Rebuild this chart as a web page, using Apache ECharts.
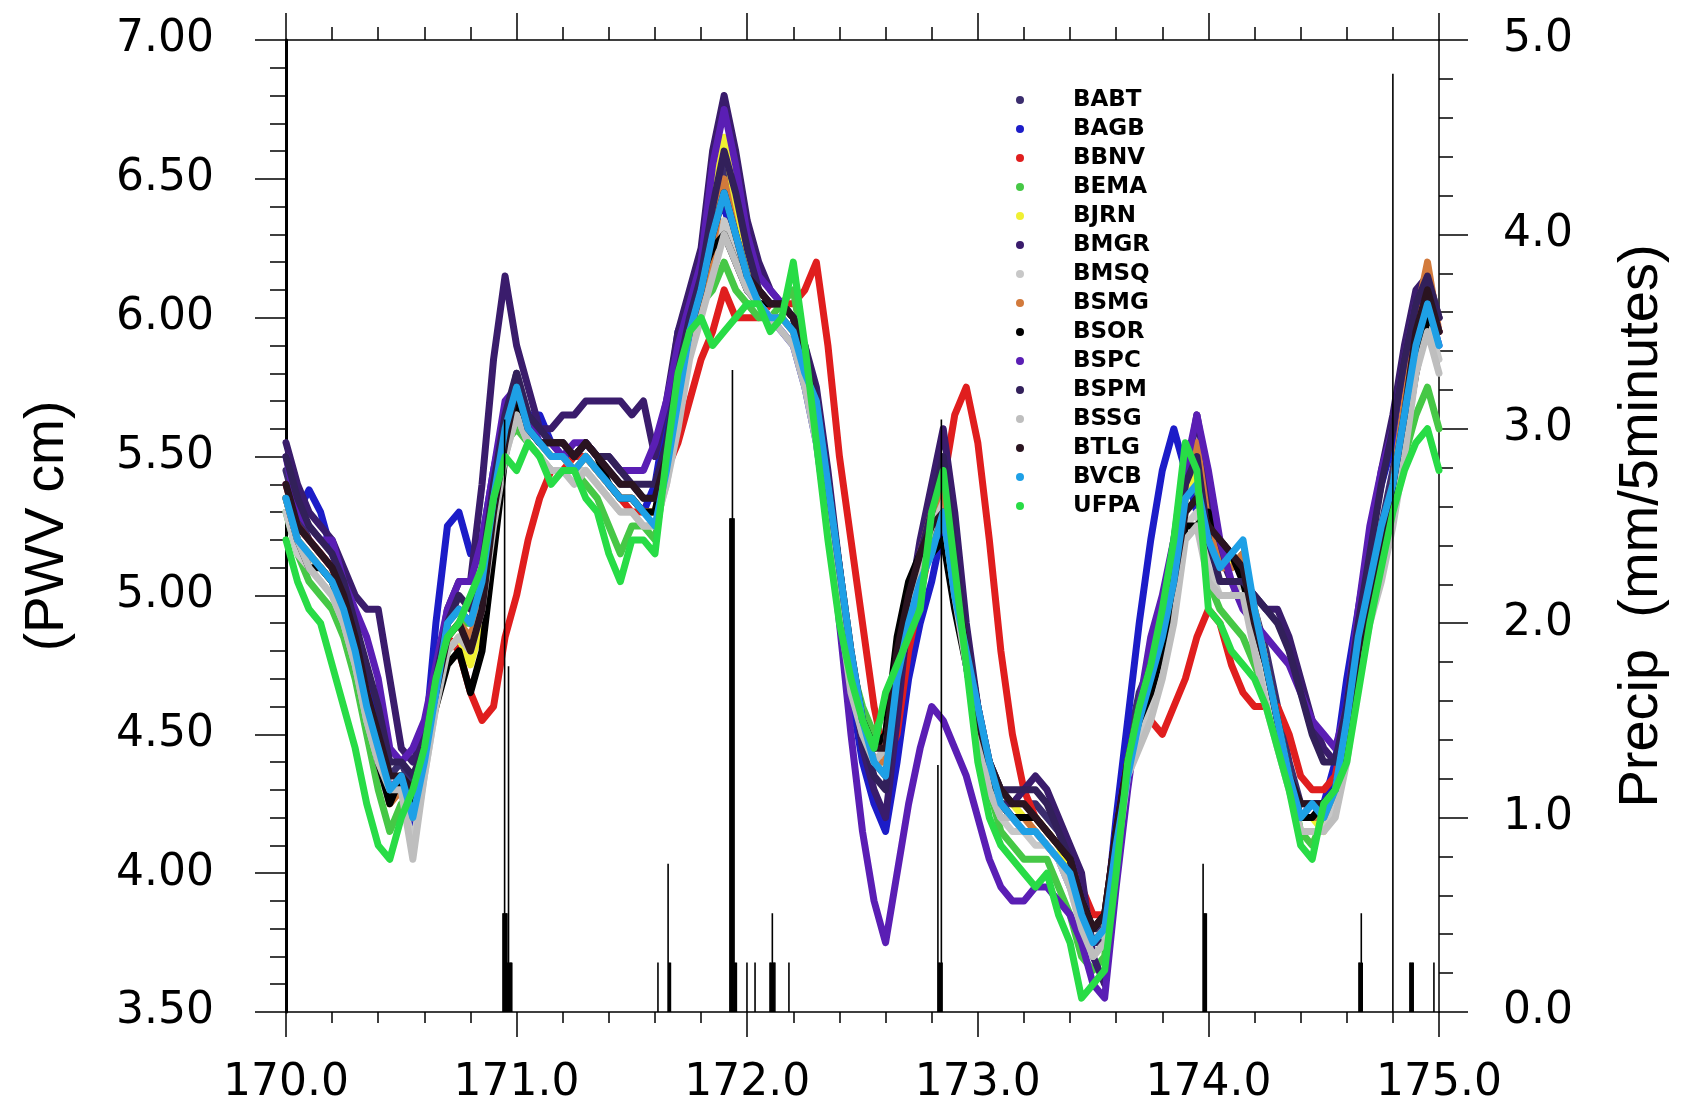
<!DOCTYPE html>
<html>
<head>
<meta charset="utf-8">
<script src="https://cdn.jsdelivr.net/npm/echarts@6/dist/echarts.min.js"></script>
<style>html,body{margin:0;padding:0;background:#fff;}#chart{width:1682px;height:1107px;}</style>
</head>
<body>
<div id="chart"></div>
<script>
const days = [170.00,170.05,170.10,170.15,170.20,170.25,170.30,170.35,170.40,170.45,
170.50,170.55,170.60,170.65,170.70,170.75,170.80,170.85,170.90,170.95,
171.00,171.05,171.10,171.15,171.20,171.25,171.30,171.35,171.40,171.45,
171.50,171.55,171.60,171.65,171.70,171.75,171.80,171.85,171.90,171.95,
172.00,172.05,172.10,172.15,172.20,172.25,172.30,172.35,172.40,172.45,
172.50,172.55,172.60,172.65,172.70,172.75,172.80,172.85,172.90,172.95,
173.00,173.05,173.10,173.15,173.20,173.25,173.30,173.35,173.40,173.45,
173.50,173.55,173.60,173.65,173.70,173.75,173.80,173.85,173.90,173.95,
174.00,174.05,174.10,174.15,174.20,174.25,174.30,174.35,174.40,174.45,
174.50,174.55,174.60,174.65,174.70,174.75,174.80,174.85,174.90,174.95,
175.00];

const BABT = [5.45,5.30,5.20,5.15,5.10,5.00,4.90,4.70,4.55,4.35,
4.40,4.30,4.45,4.65,4.90,4.95,4.90,5.05,5.35,5.60,
5.80,5.65,5.60,5.55,5.55,5.50,5.55,5.50,5.45,5.40,
5.40,5.35,5.35,5.55,5.80,6.00,6.15,6.35,6.55,6.40,
6.20,6.10,6.05,6.05,6.00,5.85,5.70,5.40,5.10,4.80,
4.55,4.40,4.35,4.70,4.95,5.10,5.25,5.40,5.10,4.85,
4.60,4.40,4.30,4.25,4.25,4.25,4.20,4.15,4.05,3.90,
3.80,3.80,4.15,4.45,4.65,4.75,4.90,5.10,5.35,5.45,
5.25,5.15,5.10,5.15,4.95,4.80,4.60,4.40,4.25,4.25,
4.25,4.35,4.55,4.85,5.05,5.25,5.45,5.70,5.95,6.10,
6.00];
const BAGB = [5.40,5.30,5.38,5.30,5.15,5.05,4.90,4.70,4.50,4.30,
4.35,4.15,4.45,4.90,5.25,5.30,5.15,5.20,5.45,5.65,
5.75,5.65,5.65,5.55,5.50,5.50,5.50,5.45,5.40,5.35,
5.35,5.30,5.40,5.65,5.95,6.05,6.15,6.35,6.40,6.25,
6.10,6.05,6.00,5.95,5.90,5.75,5.55,5.25,4.95,4.65,
4.40,4.25,4.15,4.40,4.70,4.90,5.05,5.25,5.00,4.75,
4.55,4.35,4.25,4.20,4.15,4.15,4.10,4.05,3.95,3.85,
3.75,3.80,4.20,4.55,4.90,5.20,5.45,5.60,5.45,5.30,
5.20,5.15,5.10,5.15,4.90,4.70,4.50,4.35,4.20,4.25,
4.25,4.40,4.70,4.95,5.20,5.40,5.55,5.75,5.95,6.05,
5.90];
const BBNV = [5.40,5.25,5.20,5.15,5.10,5.00,4.85,4.65,4.45,4.30,
4.35,4.20,4.45,4.65,4.85,4.80,4.65,4.55,4.60,4.85,
5.00,5.20,5.35,5.45,5.45,5.50,5.50,5.45,5.40,5.35,
5.30,5.30,5.30,5.45,5.55,5.70,5.85,5.95,6.10,6.00,
6.00,6.00,6.05,6.05,6.05,6.10,6.20,5.90,5.50,5.20,
4.90,4.60,4.40,4.50,4.80,5.00,5.20,5.40,5.65,5.75,
5.55,5.20,4.80,4.50,4.30,4.20,4.15,4.10,4.05,3.95,
3.85,3.85,4.15,4.40,4.50,4.55,4.50,4.60,4.70,4.85,
4.95,4.90,4.75,4.65,4.60,4.60,4.60,4.50,4.35,4.30,
4.30,4.35,4.55,4.85,5.05,5.20,5.40,5.60,5.85,6.05,
5.95];
const BEMA = [5.30,5.15,5.05,5.00,4.95,4.85,4.70,4.50,4.30,4.15,
4.25,4.25,4.45,4.65,4.85,4.90,4.90,5.05,5.35,5.55,
5.60,5.55,5.50,5.45,5.45,5.45,5.40,5.35,5.25,5.15,
5.25,5.25,5.20,5.45,5.75,5.95,6.05,6.10,6.20,6.10,
6.05,6.00,6.00,6.05,6.10,5.85,5.60,5.30,5.00,4.75,
4.60,4.50,4.60,4.75,4.90,5.00,5.25,5.40,5.10,4.80,
4.50,4.30,4.15,4.10,4.05,4.05,4.05,3.95,3.85,3.70,
3.65,3.70,4.05,4.40,4.60,4.75,4.95,5.20,5.50,5.40,
5.05,4.95,4.90,4.85,4.75,4.65,4.50,4.35,4.15,4.10,
4.20,4.30,4.45,4.70,4.95,5.10,5.30,5.50,5.65,5.75,
5.60];
const BJRN = [5.35,5.20,5.15,5.10,5.05,4.95,4.80,4.60,4.45,4.30,
4.30,4.20,4.40,4.60,4.80,4.85,4.75,4.90,5.25,5.55,
5.70,5.60,5.55,5.50,5.50,5.45,5.50,5.45,5.40,5.35,
5.35,5.30,5.30,5.45,5.70,5.90,6.10,6.40,6.65,6.40,
6.20,6.05,6.00,6.00,5.95,5.80,5.65,5.35,5.05,4.75,
4.55,4.40,4.40,4.75,4.95,5.15,5.25,5.38,5.05,4.80,
4.55,4.35,4.25,4.25,4.20,4.20,4.15,4.10,4.00,3.85,
3.75,3.80,4.10,4.40,4.55,4.65,4.80,5.05,5.35,5.45,
5.25,5.15,5.10,5.15,4.95,4.75,4.55,4.35,4.20,4.20,
4.15,4.25,4.50,4.80,5.00,5.15,5.35,5.65,5.95,6.10,
5.95];
const BMGR = [5.55,5.40,5.30,5.25,5.20,5.10,5.00,4.95,4.95,4.70,
4.45,4.40,4.50,4.70,4.95,5.05,5.05,5.40,5.85,6.15,
5.90,5.75,5.60,5.60,5.65,5.65,5.70,5.70,5.70,5.70,
5.65,5.70,5.50,5.70,5.95,6.10,6.25,6.60,6.80,6.60,
6.35,6.20,6.10,6.05,6.00,5.90,5.75,5.45,5.10,4.75,
4.45,4.30,4.20,4.55,4.95,5.20,5.40,5.60,5.30,4.90,
4.60,4.35,4.25,4.25,4.30,4.35,4.30,4.20,4.10,4.00,
3.70,3.60,4.05,4.40,4.60,4.80,4.95,5.15,5.40,5.65,
5.40,5.15,5.05,5.05,5.00,4.95,4.95,4.85,4.70,4.55,
4.45,4.40,4.60,4.90,5.20,5.45,5.65,5.90,6.10,6.15,
6.00];
const BMSQ = [5.30,5.15,5.10,5.05,5.00,4.90,4.75,4.55,4.40,4.25,
4.30,4.10,4.35,4.60,4.80,4.85,4.80,4.95,5.25,5.50,
5.65,5.55,5.50,5.45,5.45,5.45,5.45,5.40,5.35,5.30,
5.30,5.25,5.25,5.40,5.65,5.90,6.05,6.20,6.35,6.25,
6.10,6.05,6.00,6.00,5.95,5.80,5.60,5.30,5.00,4.70,
4.50,4.40,4.40,4.70,4.90,5.10,5.25,5.35,5.00,4.75,
4.50,4.30,4.20,4.15,4.15,4.10,4.10,4.05,3.95,3.80,
3.70,3.75,4.05,4.35,4.50,4.60,4.75,4.95,5.25,5.30,
5.10,5.00,5.00,5.05,4.85,4.65,4.45,4.30,4.15,4.15,
4.15,4.25,4.45,4.75,4.95,5.10,5.30,5.55,5.85,6.00,
5.85];
const BSMG = [5.35,5.20,5.15,5.10,5.05,4.95,4.80,4.60,4.45,4.25,
4.30,4.20,4.40,4.65,4.85,4.90,4.85,5.00,5.30,5.55,
5.70,5.60,5.55,5.50,5.50,5.45,5.50,5.45,5.40,5.35,
5.35,5.30,5.30,5.45,5.70,5.90,6.05,6.25,6.50,6.30,
6.15,6.05,6.00,6.00,5.95,5.80,5.65,5.35,5.05,4.75,
4.55,4.40,4.40,4.75,4.95,5.15,5.30,5.40,5.05,4.80,
4.55,4.35,4.25,4.20,4.20,4.15,4.10,4.05,4.00,3.85,
3.75,3.80,4.10,4.40,4.60,4.70,4.85,5.10,5.45,5.55,
5.25,5.10,5.10,5.15,4.95,4.75,4.55,4.35,4.20,4.20,
4.20,4.30,4.50,4.80,5.00,5.20,5.40,5.70,6.00,6.20,
5.95];
const BSOR = [5.35,5.20,5.10,5.10,5.05,4.95,4.80,4.60,4.40,4.25,
4.35,4.25,4.45,4.60,4.75,4.80,4.65,4.80,5.15,5.50,
5.70,5.60,5.55,5.55,5.55,5.50,5.55,5.50,5.40,5.35,
5.35,5.30,5.30,5.50,5.75,6.00,6.15,6.25,6.30,6.20,
6.10,6.05,6.05,6.05,6.00,5.85,5.65,5.35,5.05,4.75,
4.55,4.45,4.50,4.85,5.05,5.15,5.15,5.20,4.95,4.75,
4.50,4.35,4.25,4.20,4.20,4.20,4.15,4.10,4.05,3.90,
3.80,3.85,4.15,4.40,4.55,4.65,4.80,5.00,5.25,5.25,
5.30,5.20,5.15,5.05,4.90,4.75,4.55,4.35,4.20,4.20,
4.25,4.30,4.50,4.80,5.00,5.15,5.30,5.55,5.80,6.00,
5.95];
const BSPC = [5.50,5.30,5.25,5.20,5.20,5.05,4.95,4.85,4.70,4.45,
4.40,4.45,4.55,4.75,4.95,5.05,5.05,5.20,5.45,5.70,
5.75,5.65,5.55,5.55,5.50,5.55,5.55,5.50,5.50,5.45,
5.45,5.45,5.55,5.70,5.90,6.05,6.20,6.55,6.75,6.55,
6.30,6.15,6.10,6.05,6.00,5.85,5.60,5.30,4.90,4.50,
4.15,3.90,3.75,4.00,4.25,4.45,4.60,4.55,4.45,4.35,
4.20,4.05,3.95,3.90,3.90,3.95,3.95,3.90,3.85,3.75,
3.60,3.55,3.95,4.30,4.60,4.85,5.00,5.20,5.45,5.65,
5.45,5.20,5.05,4.95,4.90,4.85,4.80,4.75,4.65,4.55,
4.50,4.45,4.60,4.95,5.25,5.45,5.60,5.85,6.05,6.10,
5.95];
const BSPM = [5.50,5.35,5.25,5.20,5.15,5.05,4.90,4.75,4.60,4.40,
4.40,4.35,4.45,4.70,4.90,5.00,4.95,5.10,5.40,5.65,
5.80,5.65,5.60,5.55,5.55,5.50,5.55,5.50,5.50,5.45,
5.40,5.40,5.40,5.55,5.80,6.00,6.15,6.40,6.60,6.45,
6.25,6.10,6.05,6.05,6.00,5.90,5.70,5.40,5.05,4.75,
4.50,4.35,4.30,4.65,4.95,5.15,5.30,5.50,5.15,4.85,
4.60,4.40,4.30,4.30,4.30,4.30,4.25,4.15,4.05,3.90,
3.75,3.75,4.10,4.40,4.60,4.75,4.90,5.10,5.40,5.50,
5.20,5.05,5.05,5.05,5.00,4.95,4.90,4.80,4.65,4.50,
4.40,4.40,4.60,4.90,5.15,5.40,5.60,5.85,6.05,6.15,
6.00];
const BSSG = [5.35,5.20,5.10,5.05,5.00,4.90,4.75,4.55,4.40,4.30,
4.30,4.05,4.35,4.60,4.80,4.85,4.80,4.95,5.25,5.50,
5.65,5.55,5.50,5.45,5.45,5.40,5.45,5.40,5.35,5.30,
5.30,5.25,5.25,5.40,5.60,5.85,6.00,6.15,6.30,6.20,
6.10,6.05,6.00,5.95,5.90,5.75,5.55,5.25,4.95,4.65,
4.50,4.40,4.45,4.75,4.95,5.10,5.25,5.30,5.00,4.75,
4.50,4.30,4.20,4.20,4.15,4.15,4.10,4.05,3.95,3.80,
3.70,3.75,4.05,4.35,4.45,4.55,4.70,4.90,5.20,5.25,
5.05,5.00,5.00,5.00,4.80,4.60,4.45,4.30,4.15,4.15,
4.15,4.20,4.40,4.70,4.90,5.05,5.25,5.50,5.80,5.95,
5.80];
const BTLG = [5.40,5.25,5.20,5.15,5.10,5.00,4.85,4.65,4.50,4.35,
4.35,4.30,4.45,4.65,4.85,4.90,4.80,4.95,5.30,5.55,
5.75,5.60,5.55,5.55,5.55,5.50,5.55,5.50,5.45,5.40,
5.40,5.35,5.35,5.50,5.75,5.95,6.10,6.30,6.45,6.30,
6.15,6.10,6.05,6.05,6.00,5.85,5.65,5.40,5.10,4.80,
4.55,4.45,4.45,4.80,5.00,5.15,5.25,5.30,5.05,4.80,
4.55,4.40,4.30,4.25,4.25,4.20,4.15,4.10,4.05,3.90,
3.80,3.85,4.15,4.40,4.60,4.70,4.85,5.05,5.30,5.35,
5.25,5.20,5.15,5.10,4.90,4.75,4.55,4.35,4.25,4.25,
4.25,4.30,4.50,4.80,5.00,5.20,5.40,5.65,5.95,6.10,
5.95];
const BVCB = [5.35,5.20,5.15,5.10,5.05,4.95,4.80,4.60,4.45,4.30,
4.35,4.20,4.40,4.65,4.90,4.95,4.90,5.05,5.35,5.60,
5.75,5.60,5.55,5.50,5.50,5.45,5.50,5.45,5.40,5.35,
5.35,5.30,5.25,5.45,5.70,5.95,6.10,6.30,6.45,6.30,
6.15,6.05,6.00,6.00,5.95,5.80,5.70,5.40,5.10,4.80,
4.55,4.40,4.35,4.70,4.90,5.05,5.15,5.30,5.00,4.80,
4.60,4.40,4.25,4.20,4.15,4.15,4.10,4.05,4.00,3.85,
3.75,3.80,4.10,4.35,4.55,4.70,4.85,5.05,5.35,5.40,
5.20,5.10,5.15,5.20,4.95,4.75,4.55,4.35,4.20,4.25,
4.20,4.30,4.55,4.85,5.05,5.25,5.40,5.65,5.90,6.05,
5.90];
const UFPA = [5.20,5.05,4.95,4.90,4.75,4.60,4.45,4.25,4.10,4.05,
4.20,4.30,4.45,4.70,4.85,4.90,5.00,5.10,5.35,5.50,
5.45,5.55,5.50,5.40,5.45,5.45,5.35,5.30,5.15,5.05,
5.20,5.20,5.15,5.50,5.80,5.95,6.00,5.90,5.95,6.00,
6.05,6.05,5.95,6.00,6.20,5.90,5.55,5.20,4.90,4.70,
4.55,4.45,4.65,4.75,4.85,4.95,5.30,5.45,5.10,4.75,
4.40,4.20,4.10,4.05,4.00,3.95,4.00,3.85,3.75,3.55,
3.60,3.65,4.00,4.40,4.60,4.75,4.95,5.20,5.55,5.45,
4.95,4.90,4.80,4.75,4.70,4.60,4.45,4.30,4.10,4.05,
4.25,4.30,4.40,4.65,4.90,5.10,5.30,5.45,5.55,5.60,
5.45];

const stationNames = ['BABT','BAGB','BBNV','BEMA','BJRN','BMGR','BMSQ','BSMG','BSOR','BSPC','BSPM','BSSG','BTLG','BVCB','UFPA'];
const stationValues = [BABT,BAGB,BBNV,BEMA,BJRN,BMGR,BMSQ,BSMG,BSOR,BSPC,BSPM,BSSG,BTLG,BVCB,UFPA];
const stationColors = ['#3b2d6e','#1c1cc8','#e01e1e','#46c846','#f0f032','#3a1c6c','#c8c8c8','#d27a3c','#000000','#5a1eb4','#32205a','#bebebe','#2a1420','#1ea0e6','#28dc46'];

// precipitation (mm per 5 minutes)
const precipDays = [170.941,170.944,170.948,170.951,170.955,170.958,170.962,170.965,170.969,170.972,170.976,170.979,
171.613,171.657,171.660,171.664,171.667,
171.925,171.929,171.932,171.936,171.939,171.943,171.946,171.950,171.953,
171.999,172.034,172.099,172.102,172.106,172.109,172.113,172.116,172.120,172.181,
172.827,172.831,172.834,172.838,172.842,172.845,
173.977,173.980,173.984,173.987,173.991,
174.653,174.656,174.660,174.663,174.667,174.800,
174.874,174.877,174.881,174.884,174.888,174.978];
const precipValues = [0.508,0.508,3.048,0.508,0.508,0.508,0.254,1.778,0.254,0.254,0.254,0.254,
0.254,0.762,0.254,0.254,0.254,
2.540,2.540,2.540,3.302,2.540,2.540,0.254,0.254,0.254,
0.254,0.254,0.254,0.254,0.254,0.508,0.254,0.254,0.254,0.254,
1.270,0.254,0.254,0.254,3.048,0.254,
0.762,0.508,0.508,0.508,0.508,
0.254,0.254,0.254,0.508,0.254,4.826,
0.254,0.254,0.254,0.254,0.254,0.254];

const xTickLabels = ['170.0','171.0','172.0','173.0','174.0','175.0'];

const chart = echarts.init(document.getElementById('chart'), null, {renderer: 'canvas'});

const tickFont = {fontFamily: 'DejaVu Sans', fontSize: 44, color: '#000'};
const axisLineStyle = {color: '#000', width: 1.5};

const lineSeries = stationNames.map((name, k) => ({
  name: name,
  type: 'line',
  xAxisIndex: 0,
  yAxisIndex: 0,
  showSymbol: false,
  symbol: 'circle',
  color: stationColors[k],
  lineStyle: {width: 7, color: stationColors[k], join: 'round', cap: 'round'},
  data: days.map((d, i) => [d, stationValues[k][i]]),
  z: 2 + k,
  animation: false,
  silent: true
}));

const barSeries = {
  name: 'Precip',
  type: 'bar',
  xAxisIndex: 0,
  yAxisIndex: 1,
  barWidth: 1.6,
  itemStyle: {color: '#000'},
  data: precipDays.map((d, i) => [d, precipValues[i]]),
  z: 30,
  animation: false,
  silent: true
};

const option = {
  backgroundColor: '#fff',
  animation: false,
  grid: {left: 286, right: 243, top: 40, bottom: 95, containLabel: false},
  legend: {
    data: stationNames,
    orient: 'vertical',
    left: 1011,
    top: 83,
    icon: 'circle',
    itemWidth: 8,
    itemHeight: 8,
    itemGap: 5,
    selectedMode: false,
    textStyle: {fontFamily: 'DejaVu Sans', fontWeight: 'bold', fontSize: 23, lineHeight: 24, color: '#000', padding: [0, 0, 0, 44]}
  },
  xAxis: [
    {
      type: 'value', position: 'bottom', min: 170, max: 175, interval: 1,
      axisLine: {show: true, onZero: false, lineStyle: axisLineStyle},
      axisTick: {show: true, length: 25, lineStyle: axisLineStyle},
      minorTick: {show: true, splitNumber: 5, length: 11, lineStyle: axisLineStyle},
      axisLabel: Object.assign({margin: 50, formatter: (v) => xTickLabels[Math.round(v - 170)]}, tickFont),
      splitLine: {show: false}
    },
    {
      type: 'value', position: 'top', min: 170, max: 175, interval: 1,
      axisLine: {show: true, onZero: false, lineStyle: axisLineStyle},
      axisTick: {show: true, length: 27, lineStyle: axisLineStyle},
      minorTick: {show: true, splitNumber: 5, length: 13, lineStyle: axisLineStyle},
      axisLabel: {show: false},
      splitLine: {show: false}
    }
  ],
  yAxis: [
    {
      type: 'value', position: 'left', min: 3.5, max: 7.0, interval: 0.5,
      name: '(PWV cm)', nameLocation: 'middle', nameRotate: 90, nameGap: 211,
      nameTextStyle: {fontFamily: 'Liberation Sans', fontSize: 55, color: '#000'},
      axisLine: {show: true, onZero: false, lineStyle: {color: '#000', width: 3}},
      axisTick: {show: true, length: 31, lineStyle: axisLineStyle},
      minorTick: {show: true, splitNumber: 5, length: 16, lineStyle: axisLineStyle},
      axisLabel: Object.assign({margin: 72, formatter: (v) => v.toFixed(2)}, tickFont),
      splitLine: {show: false}
    },
    {
      type: 'value', position: 'right', min: 0, max: 5, interval: 1,
      name: 'Precip  (mm/5minutes)', nameLocation: 'middle', nameRotate: 90, nameGap: 175,
      nameTextStyle: {fontFamily: 'Liberation Sans', fontSize: 56, color: '#000'},
      axisLine: {show: true, onZero: false, lineStyle: axisLineStyle},
      axisTick: {show: true, length: 29, lineStyle: axisLineStyle},
      minorTick: {show: true, splitNumber: 5, length: 14, lineStyle: axisLineStyle},
      axisLabel: Object.assign({margin: 64, formatter: (v) => v.toFixed(1)}, tickFont),
      splitLine: {show: false}
    }
  ],
  series: lineSeries.concat([barSeries])
};

chart.setOption(option);
</script>
</body>
</html>
